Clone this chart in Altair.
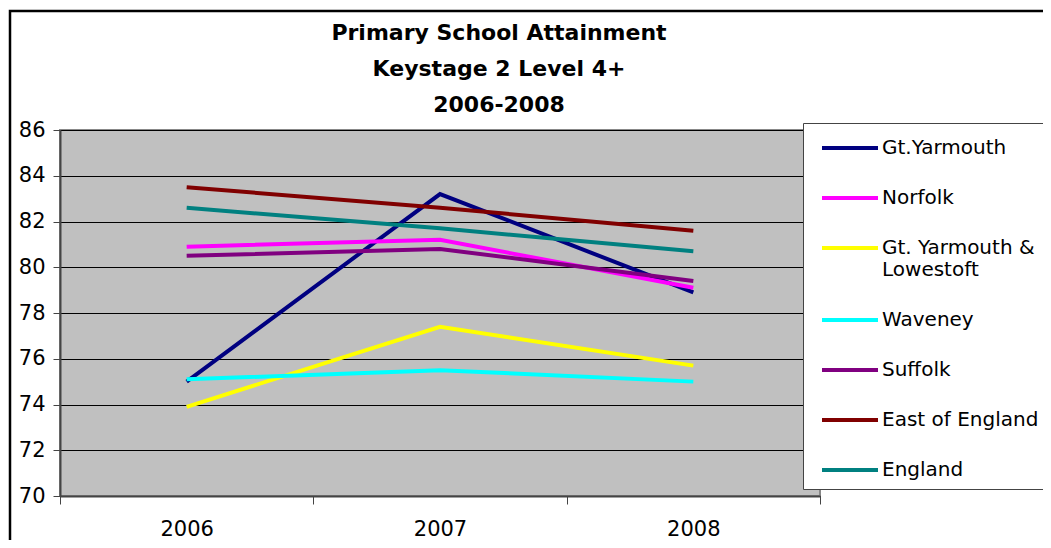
import altair as alt
import pandas as pd

years = ["2006", "2007", "2008"]
series = ["Gt.Yarmouth", "Norfolk", "Gt. Yarmouth & Lowestoft", "Waveney",
          "Suffolk", "East of England", "England"]
gt_yarmouth = [75.0, 83.2, 78.9]
norfolk = [80.9, 81.2, 79.1]
gy_lowestoft = [73.9, 77.4, 75.7]
waveney = [75.1, 75.5, 75.0]
suffolk = [80.5, 80.8, 79.4]
east_england = [83.5, 82.6, 81.6]
england = [82.6, 81.7, 80.7]
colors = ["#000080", "#FF00FF", "#FFFF00", "#00FFFF", "#800080", "#800000", "#008080"]

values = [gt_yarmouth, norfolk, gy_lowestoft, waveney, suffolk, east_england, england]
rows = []
for s, vals in zip(series, values):
    for y, v in zip(years, vals):
        rows.append({"Year": y, "Series": s, "Value": v})
df = pd.DataFrame(rows)

FONT = "DejaVu Sans"

lines = alt.Chart(df).mark_line(strokeWidth=4).encode(
    x=alt.X("Year:N", sort=years,
            scale=alt.Scale(type="band", paddingInner=0, paddingOuter=0),
            axis=alt.Axis(title=None, labelAngle=0, tickBand="extent", grid=False,
                          labelFont=FONT, labelFontSize=21, labelColor="black",
                          tickSize=8, tickColor="#444", domainColor="#444", domainWidth=2,
                          labelPadding=14)),
    y=alt.Y("Value:Q", scale=alt.Scale(domain=[70, 86], nice=False, zero=False),
            axis=alt.Axis(title=None, values=list(range(70, 87, 2)), grid=True,
                          gridColor="black", gridWidth=1, labelFont=FONT,
                          labelFontSize=21, labelColor="black", tickSize=7,
                          tickColor="#444", domainColor="#444", domainWidth=2,
                          labelPadding=8)),
    color=alt.Color("Series:N", sort=series,
                    scale=alt.Scale(domain=series, range=colors),
                    legend=alt.Legend(title=None, orient="none", legendX=743, legendY=-7,
                                      fillColor="white", strokeColor="#444",
                                      padding=9, symbolType="M-2,0H2", symbolSize=784,
                                      symbolStrokeWidth=4, symbolOffset=22,
                                      labelFont=FONT, labelFontSize=20, labelColor="black",
                                      labelLimit=500, rowPadding=24, labelOffset=16,
                                      labelExpr="datum.label == 'Gt. Yarmouth & Lowestoft' ? ['Gt. Yarmouth &', 'Lowestoft'] : datum.label")),
)

border = alt.Chart(pd.DataFrame({"a": [0]})).mark_rect(
    fill=None, stroke="black", strokeWidth=2.5
).encode(x=alt.value(-50), y=alt.value(-119), x2=alt.value(2000), y2=alt.value(2000))

chart = alt.layer(border, lines).properties(
    width=760, height=366,
    padding={"left": 52, "top": 122, "right": 223, "bottom": 44},
    autosize=alt.AutoSizeParams(type="none"),
    title=alt.TitleParams(text=["Primary School Attainment", "Keystage 2 Level 4+", "2006-2008"],
                          font=FONT, fontSize=22, fontWeight="bold", color="black",
                          lineHeight=36, anchor="middle", dx=59, dy=121, offset=14),
).configure_view(fill="#C0C0C0", stroke="#888", strokeWidth=2)

chart.save("out.html", embed_options={"renderer": "svg", "actions": False})
